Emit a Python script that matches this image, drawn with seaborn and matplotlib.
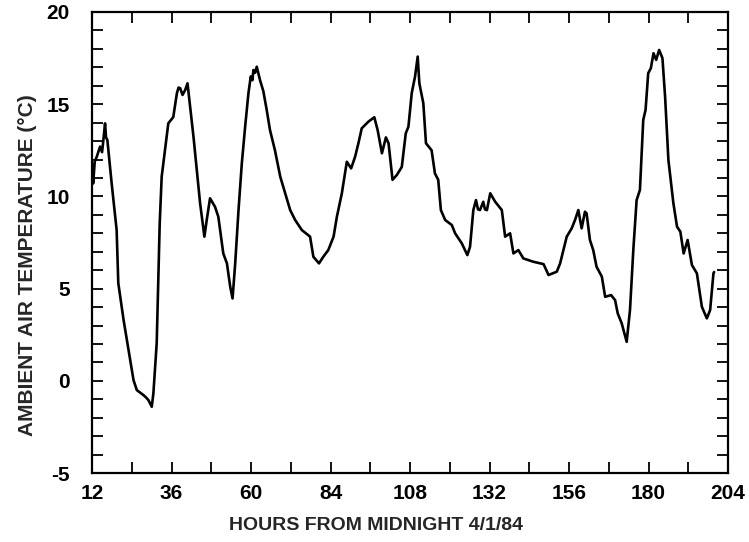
import matplotlib
matplotlib.use("Agg")
import matplotlib.pyplot as plt
import seaborn as sns
import pandas as pd

hours = [12.0, 12.3, 12.8, 13.4, 14.4, 15.0, 15.4, 15.9, 16.2, 16.6, 17.9, 19.4, 19.9, 21.5, 23.5,
         24.5, 25.5, 27.5, 28.3, 29.0, 30.0, 30.5, 31.5, 32.0, 32.4, 33.0, 34.0, 35.0, 36.5,
         37.6, 38.1, 38.6, 39.3, 40.1, 40.8, 41.6, 42.6, 43.6, 44.6, 45.9, 46.6, 47.6, 49.1,
         50.1, 51.6, 52.7, 53.7, 54.4, 55.2, 56.2, 57.2, 58.2, 59.2, 59.9, 60.4, 60.7, 61.2,
         61.7, 62.7, 63.7, 64.7, 65.7, 67.2, 68.8, 70.3, 71.8, 73.3, 75.3, 77.8, 78.8, 80.5,
         81.8, 83.3, 84.9, 85.9, 87.4, 88.9, 90.2, 91.4, 92.4, 93.4, 95.4, 97.2, 98.2, 99.5,
         100.7, 101.5, 102.7, 104.0, 105.5, 106.7, 107.5, 108.5, 109.5, 110.3, 110.8, 112.0,
         112.8, 114.5, 115.5, 116.5, 117.3, 118.6, 120.6, 121.6, 123.6, 125.3, 126.1, 127.1,
         127.9, 128.5, 129.1, 130.1, 130.6, 131.2, 132.2, 133.7, 135.7, 136.7, 138.2, 139.2,
         140.7, 142.2, 145.2, 148.3, 149.8, 152.3, 153.3, 154.3, 155.3, 156.8, 157.8, 158.8,
         159.8, 160.8, 161.3, 162.3, 163.3, 164.3, 165.9, 166.9, 168.7, 169.9, 170.7, 171.9,
         173.4, 174.4, 175.4, 176.4, 177.4, 178.4, 179.1, 179.9, 180.7, 181.5, 182.3, 183.2,
         184.2, 185.0, 186.0, 187.5, 188.6, 189.6, 190.6, 191.8, 193.1, 194.6, 196.1, 197.6,
         198.6, 199.6, 199.8]
temps = [11.8, 10.7, 11.9, 12.15, 12.7, 12.4, 13.06, 13.96, 13.2, 13.06, 10.7, 8.18, 5.3, 3.3, 1.13,
         0.04, -0.5, -0.77, -0.9, -1.04, -1.4, -0.67, 2.05, 5.65, 8.5, 11.07, 12.5, 13.96, 14.3,
         15.6, 15.9, 15.86, 15.5, 15.77, 16.13, 14.86, 13.24, 11.43, 9.63, 7.82, 8.72, 9.9, 9.44,
         8.9, 6.91, 6.37, 5.1, 4.47, 6.37, 9.26, 11.8, 13.78, 15.6, 16.5, 16.3, 16.85, 16.7,
         17.03, 16.3, 15.7, 14.7, 13.6, 12.5, 11.07, 10.17, 9.26, 8.72, 8.18, 7.82, 6.73, 6.37,
         6.73, 7.09, 7.82, 8.9, 10.17, 11.88, 11.52, 12.15, 12.88, 13.69, 14.05, 14.29, 13.6, 12.34,
         13.2, 12.88, 10.9, 11.16, 11.6, 13.42, 13.78, 15.6, 16.5, 17.58, 16.13, 15.05,
         12.88, 12.5, 11.25, 10.9, 9.26, 8.72, 8.45, 8.0, 7.46, 6.82, 7.27, 9.26,
         9.8, 9.3, 9.26, 9.71, 9.3, 9.26, 10.17, 9.71, 9.26, 7.82, 8.0, 6.91,
         7.09, 6.64, 6.46, 6.33, 5.74, 5.92, 6.37, 7.09, 7.82, 8.27, 8.72, 9.26,
         8.27, 9.17, 9.08, 7.64, 7.09, 6.19, 5.65, 4.56, 4.65, 4.38, 3.66, 3.12,
         2.12, 3.84, 7.09, 9.8, 10.35, 14.14, 14.69, 16.68, 16.95, 17.76, 17.4, 17.94,
         17.49, 15.4, 11.97, 9.63, 8.36, 8.09, 6.91, 7.64, 6.28, 5.83, 4.02, 3.39,
         3.84, 5.83, 5.9]

x_tick_values = list(range(12, 205, 12))
x_tick_labels = [str(v) if (v - 12) % 24 == 0 else "" for v in x_tick_values]
y_tick_values = list(range(-5, 21))
y_tick_labels = [str(v) if v % 5 == 0 else "" for v in y_tick_values]

df = pd.DataFrame({"hours": hours, "temp": temps})

sns.set_style("white")
plt.rcParams["font.family"] = ["Liberation Sans", "DejaVu Sans"]
plt.rcParams["font.weight"] = "bold"

fig = plt.figure(figsize=(7.49, 5.42), dpi=100)
ax = fig.add_axes([0.123, 0.127, 0.849, 0.851])
sns.lineplot(data=df, x="hours", y="temp", ax=ax, color="black", linewidth=1.9,
             sort=False, estimator=None)

ax.set_xlim(12, 204)
ax.set_ylim(-5, 20)
ax.set_xticks(x_tick_values)
ax.set_xticklabels(x_tick_labels, fontsize=15, fontweight="bold")
ax.set_yticks(y_tick_values)
ax.set_yticklabels(y_tick_labels, fontsize=15, fontweight="bold")
ax.tick_params(axis="both", direction="in", length=8, width=1.3, top=True, right=True,
               bottom=True, left=True, colors="black")
ax.tick_params(axis="x", pad=8)
ax.tick_params(axis="y", pad=16)
for s in ax.spines.values():
    s.set_visible(True)
    s.set_color("black")
    s.set_linewidth(1.6)

ax.set_xlabel("HOURS FROM MIDNIGHT 4/1/84", fontsize=14, fontweight="bold")
ax.xaxis.set_label_coords(0.447, -0.095)
ax.set_ylabel("AMBIENT AIR TEMPERATURE (°C)", fontsize=15, fontweight="bold")
ax.yaxis.set_label_coords(-0.087, 0.45)

fig.savefig("out.png", dpi=100)
